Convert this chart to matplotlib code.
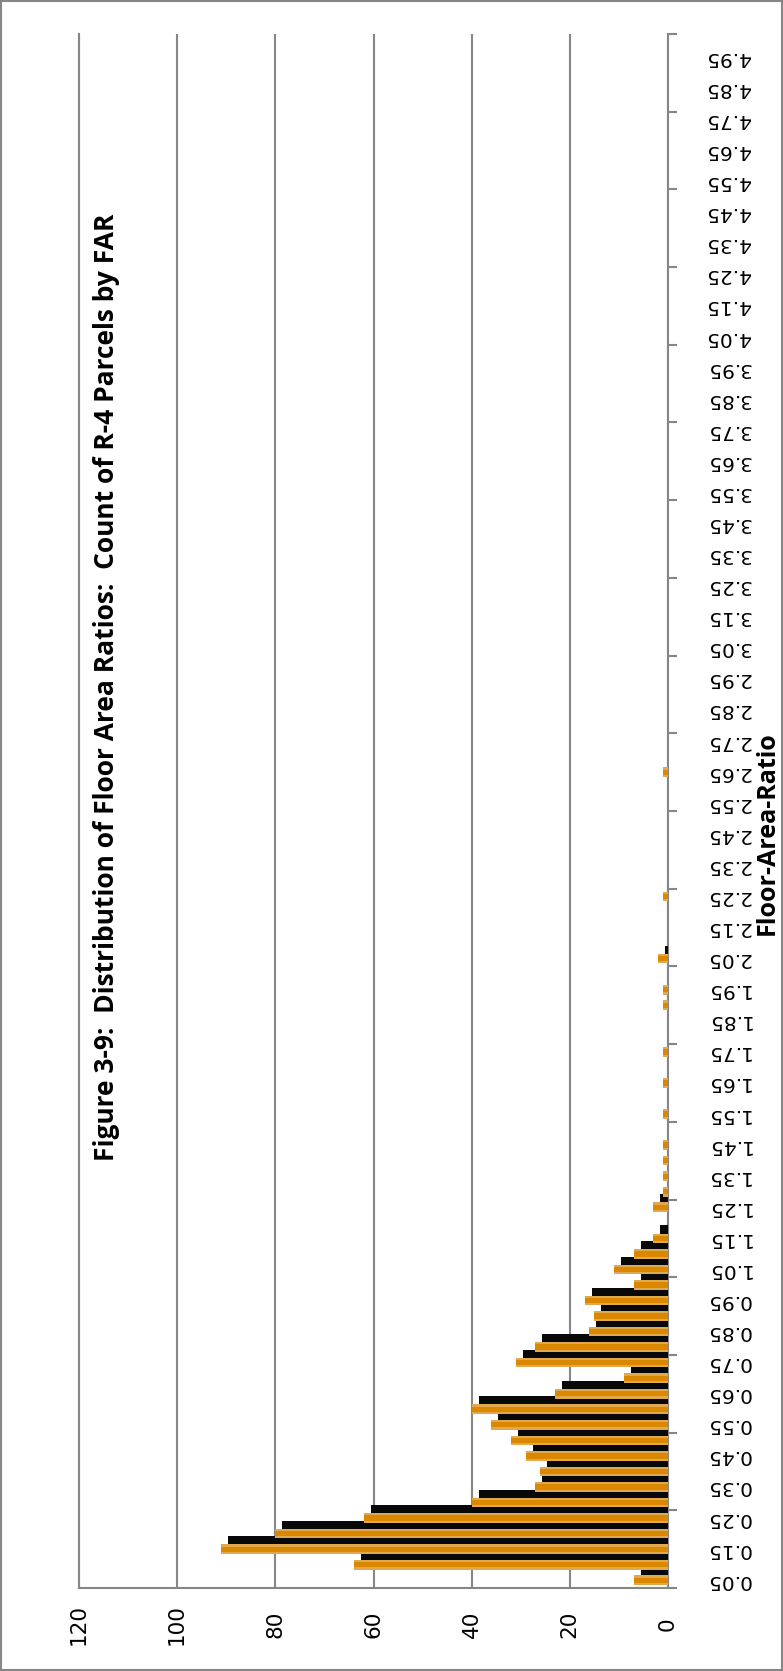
import matplotlib
matplotlib.use("Agg")
import matplotlib.pyplot as plt
import matplotlib.patheffects as pe
from matplotlib.patches import Rectangle
from matplotlib.ticker import FixedLocator, FixedFormatter, NullFormatter
import numpy as np

# FAR classes 0.05 ... 5.00 (one bar each), labels shown on every other class
far_classes = [round(0.05 * i, 2) for i in range(1, 101)]
parcel_counts = [
    7, 64, 91, 80, 62, 40, 27, 26, 29, 32,
    36, 40, 23, 9, 31, 27, 16, 15, 17, 7,
    11, 7, 3, 0, 3, 1, 1, 1, 1, 0,
    1, 0, 1, 0, 1, 0, 0, 1, 1, 0,
    2, 0, 0, 0, 1, 0, 0, 0, 0, 0,
    0, 0, 1, 0, 0, 0, 0, 0, 0, 0,
    0, 0, 0, 0, 0, 0, 0, 0, 0, 0,
    0, 0, 0, 0, 0, 0, 0, 0, 0, 0,
    0, 0, 0, 0, 0, 0, 0, 0, 0, 0,
    0, 0, 0, 0, 0, 0, 0, 0, 0, 0,
]
value_ticks = [0, 20, 40, 60, 80, 100, 120]
title = "Figure 3-9:  Distribution of Floor Area Ratios:  Count of R-4 Parcels by FAR"
axis_label = "Floor-Area-Ratio"

GRID = "#868686"
W, H = 783, 1671

fig = plt.figure(figsize=(W / 100, H / 100), dpi=100)
ax = fig.add_axes([79 / W, 1 - 1588 / H, (668 - 79) / W, (1588 - 34) / H])

pos = np.arange(1, len(far_classes) + 1)
shadow = [pe.SimplePatchShadow(offset=(5, 5.8), shadow_rgbFace="#080808", alpha=1.0), pe.Normal()]
ax.barh(pos, parcel_counts, height=0.62, color="#E2A84E", lw=0, path_effects=shadow, zorder=3)
ax.barh(pos, parcel_counts, height=0.34, color="#D98800", lw=0, zorder=4)

ax.set_xlim(120, 0)
ax.set_ylim(0.5, len(far_classes) + 0.5)

# value axis (bottom after rotation)
ax.set_xticks(value_ticks)
ax.set_xticklabels([str(v) for v in value_ticks])
ax.tick_params(axis="x", length=0, labelrotation=90, pad=26, labelsize=15.5)
for t in ax.get_xticklabels():
    t.set_verticalalignment("center")
ax.grid(axis="x", color=GRID, lw=1.5, zorder=0)
ax.set_axisbelow(True)

# category axis (right after rotation)
ax.yaxis.tick_right()
ax.yaxis.set_major_locator(FixedLocator(np.arange(0.5, len(far_classes) + 1, 5)))
ax.yaxis.set_major_formatter(NullFormatter())
lab_pos = pos[::2]
ax.yaxis.set_minor_locator(FixedLocator(lab_pos))
ax.yaxis.set_minor_formatter(FixedFormatter([f"{far_classes[i - 1]:.2f}" for i in lab_pos]))
ax.tick_params(axis="y", which="major", direction="out", length=6.5, width=1.5, color=GRID,
               right=True, left=False, labelright=False, labelleft=False)
ax.tick_params(axis="y", which="minor", length=0, right=True, left=False,
               labelright=True, labelleft=False, labelrotation=180, pad=27, labelsize=14.5)
for t in ax.yaxis.get_minorticklabels():
    t.set_verticalalignment("center")

for s in ["left", "right", "bottom"]:
    ax.spines[s].set_color(GRID)
    ax.spines[s].set_linewidth(1.5)
ax.spines["top"].set_visible(False)

fig.text(107 / W, 1 - 687 / H, title, rotation=90, ha="center", va="center",
         fontsize=19, fontweight="bold", family="Open Sans")
fig.text(767 / W, 1 - 833 / H, axis_label, rotation=90, ha="center", va="center",
         fontsize=18, fontweight="bold", family="Open Sans")

fig.patches.append(Rectangle((1 / W, 1 / H), (W - 2) / W, (H - 2) / H, transform=fig.transFigure,
                             fill=False, ec=GRID, lw=1.5))

fig.savefig("out.png", dpi=100)
